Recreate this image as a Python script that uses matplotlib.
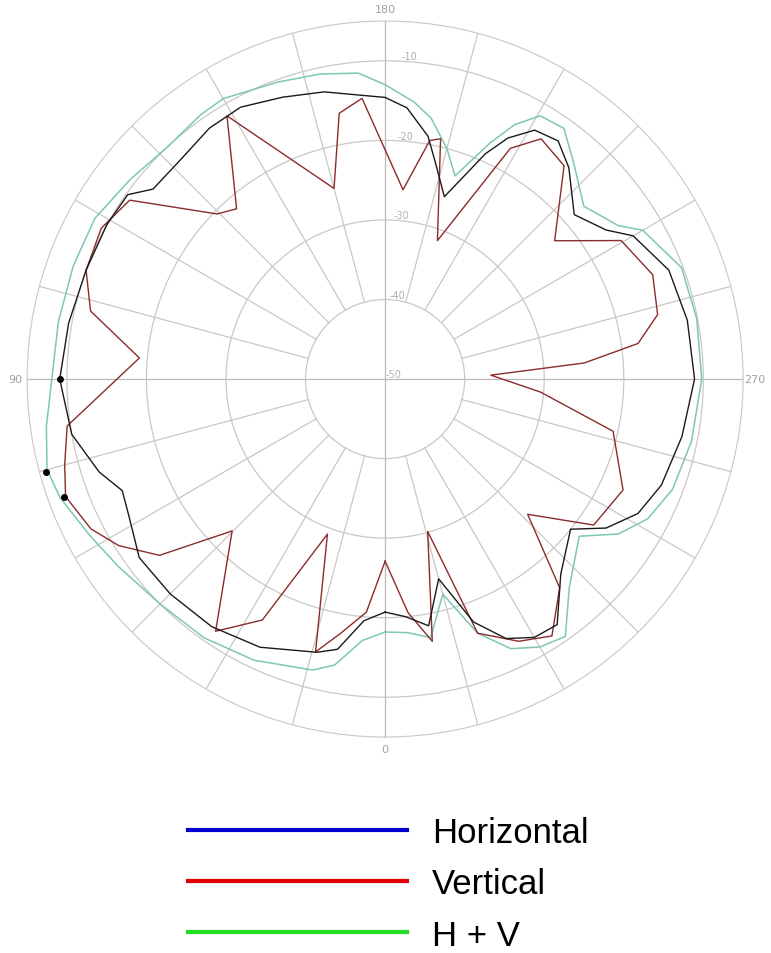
import numpy as np
import matplotlib.pyplot as plt
from matplotlib.lines import Line2D

# angles in degrees (0 at bottom, clockwise), levels in dB
h_angles = [0, 5, 10, 14, 25, 35, 45, 54, 62, 67, 72, 80, 90, 100, 110, 119,
            125.6, 129.3, 137, 145, 152, 160, 168, 180, 184.6, 190, 193, 198,
            204, 207, 211, 216, 221, 229, 236, 240, 249, 259, 270, 281, 291,
            298, 304, 309, 318, 325, 330, 335, 340, 345, 350, 355]
h_values = [-20.7, -19.5, -15.5, -14.6, -12.8, -12, -11.8, -11.8, -13.5, -14.1,
            -12.2, -10, -9.1, -9.6, -10, -10, -10.2, -12.3, -12.3, -11.5, -11.3,
            -12.3, -13.1, -14.6, -15.8, -19, -22, -25.9, -19, -16, -13.5, -13,
            -14.8, -18.5, -16.5, -14, -11.8, -11.3, -11.1, -12, -12.8, -14,
            -16.5, -20, -17, -12.3, -12.5, -14, -17.5, -24, -18.5, -20]

v_angles = [0, 4.6, 10, 14.3, 20.4, 27, 33.9, 45.2, 52, 58, 63, 69.8, 75, 81.6,
            94.9, 103, 110, 118, 125, 134.5, 138.9, 149, 165, 170.2, 175.3,
            185.4, 190.6, 193, 200.7, 208.5, 213, 220, 230.8, 239.6, 248.7,
            256.7, 262, 265.4, 267.9, 274.8, 282.9, 295, 305, 313.5, 320.1,
            327, 333, 340, 344.4, 349.8, 354.4]
v_values = [-27.1, -20.6, -17.5, -14.6, -29.2, -16, -11.8, -22.9, -14, -10.5,
            -8.5, -7.2, -8.3, -9.6, -19, -12, -10, -9.6, -10.8, -20.4, -21.6,
            -11.4, -25.2, -16.1, -14.6, -26.1, -19.5, -19, -31.4, -17, -14, -15,
            -22.5, -15.6, -13.9, -14.8, -17.9, -24.9, -36.7, -30.4, -20.6, -17,
            -18, -25.3, -15.8, -11.5, -13, -16, -30.1, -16.5, -20.5]

hv_angles = [0, 5, 10, 14, 25, 35, 45, 55, 62, 70, 75, 82, 90, 100, 110, 119,
             128, 137, 145, 150, 160, 168, 175, 180, 186, 190, 195, 199, 204,
             207, 210.5, 215.5, 221, 229, 236.7, 240, 249.4, 259, 270, 281.5,
             291, 298, 303.6, 309, 318.6, 325, 330, 335, 340, 345, 350, 355]
hv_values = [-18.2, -17, -13.5, -12.3, -11, -10.3, -10, -9, -8, -6.5, -6, -7,
             -8.1, -8.3, -8.3, -8.3, -9.3, -10, -9.5, -9.3, -10.3, -10.8, -11.4,
             -13, -15, -16.7, -20, -23, -17.5, -14.1, -11.6, -11.3, -13.9, -16.9,
             -14.9, -12.6, -10.2, -10.1, -10.2, -10.7, -11.3, -12.6, -14.8, -18.6,
             -15, -10.5, -11.1, -12.6, -16, -22, -17, -18]

# highlighted points on the left side
dot_angles = [90, 74.7, 69.8]
dot_values = [-9.1, -5.8, -7.0]

r_ticks = [-50, -40, -30, -20, -10]
theta_labels = {0: '0', 90: '90', 180: '180', 270: '270'}

grid_col = '#c8c8c8'


def closed(angles, values):
    th = np.radians(list(angles) + [angles[0]])
    return th, list(values) + [values[0]]


fig = plt.figure(figsize=(7.71, 9.54), dpi=100)
ax = fig.add_axes([0.035, 0.2264, 0.929, 0.7505], projection='polar')
ax.set_theta_zero_location('S')
ax.set_theta_direction(-1)
ax.set_ylim(-50, -5)

# grid
ax.set_yticks(r_ticks)
ax.set_yticklabels([str(v) for v in r_ticks])
ax.set_rlabel_position(183)
ax.tick_params(axis='y', labelsize=7, colors='#b0b0b0')
ax.set_xticks(np.radians(list(theta_labels.keys())))
ax.set_xticklabels(list(theta_labels.values()))
ax.tick_params(axis='x', labelsize=8, colors='#a0a0a0', pad=-2)
ax.xaxis.grid(False)
ax.yaxis.grid(True, color=grid_col, linewidth=0.9)
ax.spines['polar'].set_color(grid_col)
for a in range(0, 360, 15):
    t = np.radians(a)
    if a % 90 == 0:
        ax.plot([t, t], [-50, -5], color='#b8b8b8', linewidth=0.9, zorder=1)
    else:
        ax.plot([t, t], [-40, -5], color=grid_col, linewidth=0.9, zorder=1)

ax.plot(*closed(hv_angles, hv_values), color='#7cc8b0', linewidth=1.1, zorder=3)
ax.plot(*closed(v_angles, v_values), color='#8c2b2b', linewidth=1.0, zorder=4)
ax.plot(*closed(h_angles, h_values), color='#1a1a1a', linewidth=1.0, zorder=5)
ax.plot(np.radians(dot_angles), dot_values, 'o', color='black', markersize=4, zorder=6)

handles = [Line2D([], [], color='#0000cc', linewidth=3),
           Line2D([], [], color='#e00000', linewidth=3),
           Line2D([], [], color='#22dd22', linewidth=3)]
fig.legend(handles, ['Horizontal', 'Vertical', 'H + V'], loc='upper left',
           bbox_to_anchor=(0.244, 0.1438), frameon=False,
           handlelength=6.3, handletextpad=0.72, labelspacing=0.53,
           borderpad=0, borderaxespad=0,
           prop={'family': 'Liberation Sans', 'size': 25})

fig.savefig('out.png', dpi=100)
